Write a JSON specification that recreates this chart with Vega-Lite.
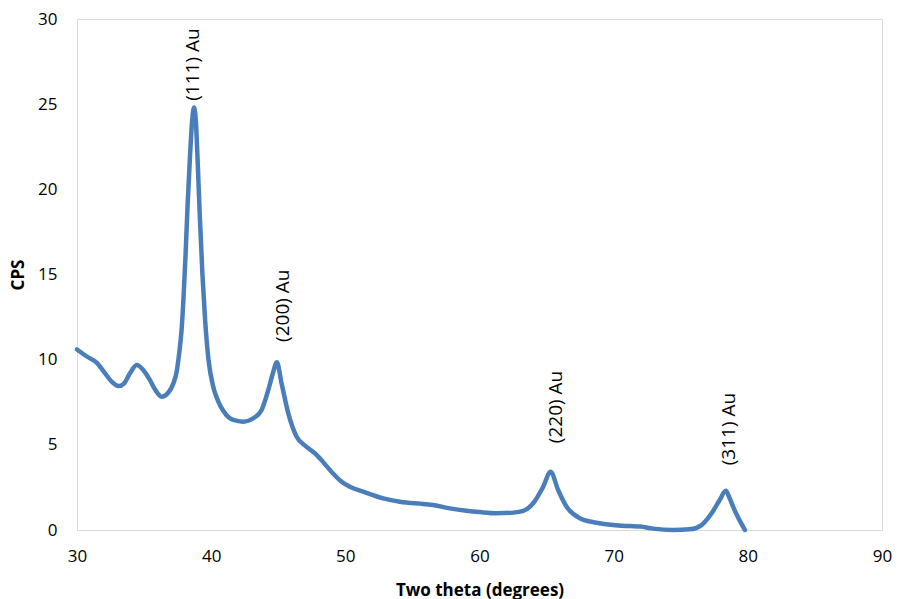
{
  "$schema": "https://vega.github.io/schema/vega-lite/v6.json",
  "width": 805,
  "height": 511,
  "autosize": {"type": "none"},
  "padding": {"left": 77, "top": 19, "right": 17, "bottom": 69},
  "background": "white",
  "config": {
    "view": {"stroke": "#d9d9d9", "strokeWidth": 1},
    "font": "Open Sans",
    "axis": {
      "domain": false,
      "ticks": false,
      "grid": false,
      "labelFlush": false,
      "labelFont": "Open Sans",
      "labelFontSize": 17,
      "labelColor": "#000000",
      "titleFont": "Open Sans",
      "titleFontSize": 17,
      "titleFontWeight": "bold",
      "titleColor": "#000000"
    }
  },
  "datasets": {
    "xrd": [
      {"theta": 30.0, "cps": 10.6},
      {"theta": 30.7, "cps": 10.2},
      {"theta": 31.5, "cps": 9.8},
      {"theta": 32.0, "cps": 9.3},
      {"theta": 32.6, "cps": 8.7},
      {"theta": 33.1, "cps": 8.45},
      {"theta": 33.5, "cps": 8.6},
      {"theta": 33.95, "cps": 9.2},
      {"theta": 34.45, "cps": 9.69},
      {"theta": 34.94, "cps": 9.4},
      {"theta": 35.44, "cps": 8.8},
      {"theta": 35.81, "cps": 8.26},
      {"theta": 36.31, "cps": 7.83},
      {"theta": 36.8, "cps": 8.06},
      {"theta": 37.18, "cps": 8.6},
      {"theta": 37.43, "cps": 9.3},
      {"theta": 37.62, "cps": 10.4},
      {"theta": 37.8, "cps": 11.8},
      {"theta": 37.95, "cps": 13.8},
      {"theta": 38.1, "cps": 16.3},
      {"theta": 38.25, "cps": 19.2},
      {"theta": 38.42, "cps": 21.9},
      {"theta": 38.58, "cps": 24.0},
      {"theta": 38.72, "cps": 24.8},
      {"theta": 38.86, "cps": 24.0},
      {"theta": 38.98, "cps": 21.9},
      {"theta": 39.15, "cps": 18.5},
      {"theta": 39.35, "cps": 15.0},
      {"theta": 39.55, "cps": 12.3},
      {"theta": 39.8, "cps": 10.0},
      {"theta": 40.16, "cps": 8.4},
      {"theta": 40.5, "cps": 7.6},
      {"theta": 40.9, "cps": 7.0},
      {"theta": 41.65, "cps": 6.46},
      {"theta": 42.39, "cps": 6.36},
      {"theta": 43.14, "cps": 6.56},
      {"theta": 43.76, "cps": 7.05},
      {"theta": 44.26, "cps": 8.22},
      {"theta": 44.6, "cps": 9.2},
      {"theta": 44.9, "cps": 9.85},
      {"theta": 45.25, "cps": 8.6},
      {"theta": 45.75, "cps": 6.85},
      {"theta": 46.37, "cps": 5.48},
      {"theta": 47.0, "cps": 4.95},
      {"theta": 47.8, "cps": 4.45},
      {"theta": 48.5, "cps": 3.85},
      {"theta": 49.1, "cps": 3.3},
      {"theta": 49.7, "cps": 2.85},
      {"theta": 50.34, "cps": 2.54},
      {"theta": 51.33, "cps": 2.25},
      {"theta": 52.82, "cps": 1.86},
      {"theta": 54.07, "cps": 1.66},
      {"theta": 55.8, "cps": 1.53},
      {"theta": 56.55, "cps": 1.47},
      {"theta": 57.8, "cps": 1.27},
      {"theta": 59.04, "cps": 1.13},
      {"theta": 60.03, "cps": 1.05},
      {"theta": 61.27, "cps": 0.98},
      {"theta": 62.51, "cps": 1.02},
      {"theta": 63.26, "cps": 1.12},
      {"theta": 64.0, "cps": 1.57},
      {"theta": 64.75, "cps": 2.54},
      {"theta": 65.3, "cps": 3.42},
      {"theta": 65.86, "cps": 2.35},
      {"theta": 66.49, "cps": 1.37},
      {"theta": 67.48, "cps": 0.69},
      {"theta": 68.72, "cps": 0.43},
      {"theta": 69.96, "cps": 0.29},
      {"theta": 71.2, "cps": 0.23},
      {"theta": 72.0, "cps": 0.2},
      {"theta": 72.94, "cps": 0.08},
      {"theta": 74.43, "cps": 0.0},
      {"theta": 75.67, "cps": 0.04},
      {"theta": 76.55, "cps": 0.29},
      {"theta": 77.3, "cps": 0.98},
      {"theta": 77.9, "cps": 1.76},
      {"theta": 78.36, "cps": 2.3},
      {"theta": 78.6, "cps": 1.95},
      {"theta": 78.9, "cps": 1.37},
      {"theta": 79.2, "cps": 0.85},
      {"theta": 79.5, "cps": 0.4},
      {"theta": 79.78, "cps": 0.0}
    ],
    "peaks": [
      {"theta": 38.64, "cps": 25.2, "label": "(111) Au"},
      {"theta": 45.35, "cps": 11.04, "label": "(200) Au"},
      {"theta": 65.69, "cps": 5.1, "label": "(220) Au"},
      {"theta": 78.58, "cps": 3.8, "label": "(311) Au"}
    ]
  },
  "layer": [
    {
      "data": {"name": "xrd"},
      "mark": {"type": "line", "color": "#4a7ebb", "strokeWidth": 4.5, "interpolate": "monotone", "strokeCap": "round", "strokeJoin": "round"},
      "encoding": {
        "x": {
          "field": "theta",
          "type": "quantitative",
          "scale": {"domain": [30, 90], "nice": false, "zero": false},
          "axis": {"values": [30, 40, 50, 60, 70, 80, 90], "title": "Two theta (degrees)", "labelPadding": 18, "titlePadding": 18}
        },
        "y": {
          "field": "cps",
          "type": "quantitative",
          "scale": {"domain": [0, 30], "nice": false},
          "axis": {"values": [0, 5, 10, 15, 20, 25, 30], "title": "CPS", "labelPadding": 20, "titlePadding": 10}
        }
      }
    },
    {
      "data": {"name": "peaks"},
      "mark": {"type": "text", "angle": 270, "align": "left", "baseline": "middle", "font": "Open Sans", "fontSize": 19, "color": "#000000"},
      "encoding": {
        "x": {"field": "theta", "type": "quantitative"},
        "y": {"field": "cps", "type": "quantitative"},
        "text": {"field": "label"}
      }
    }
  ]
}
